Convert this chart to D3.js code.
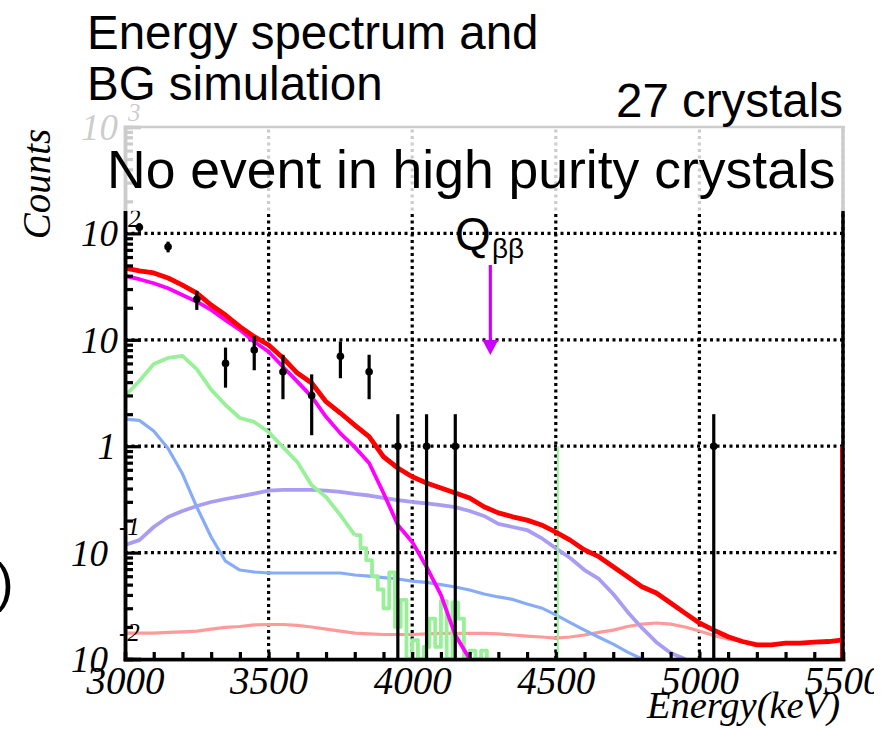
<!DOCTYPE html>
<meta charset="utf-8">
<style>
  html, body { margin: 0; background: #fff; }
  svg { display: block; }
  .root { font-family: "Liberation Serif", "DejaVu Serif", serif; font-style: italic; }
  .sans { font-family: "Liberation Sans", Arial, sans-serif; }
</style>
<body>
<script src="https://cdn.jsdelivr.net/npm/d3@7/dist/d3.min.js"></script>
<script>
// energy grid of the simulated spectra (keV)
var energy = [3000, 3050, 3100, 3150, 3200, 3250, 3300, 3350, 3400, 3450,
  3500, 3550, 3600, 3650, 3700, 3750, 3800, 3850, 3900, 3950,
  4000, 4050, 4100, 4150, 4200, 4250, 4300, 4350, 4400, 4450,
  4500, 4550, 4600, 4650, 4700, 4750, 4800, 4850, 4900, 4950,
  5000, 5050, 5100, 5150, 5200, 5250, 5300, 5350, 5400, 5450, 5500];

// BG simulation, counts per bin
var totalBG = [47.3, 44.4, 42.5, 38.1, 32.7, 27.5, 21.2, 17.1, 13.3, 10.7,
  8.93, 6.74, 4.87, 3.92, 2.62, 2.05, 1.58, 1.23, 0.796, 0.624,
  0.517, 0.451, 0.405, 0.363, 0.326, 0.27, 0.236, 0.217, 0.202, 0.182,
  0.156, 0.131, 0.106, 0.0915, 0.0736, 0.0593, 0.0478, 0.0417, 0.0336, 0.027,
  0.0218, 0.0187, 0.0162, 0.0146, 0.0136, 0.0136, 0.0141, 0.0141, 0.0144, 0.0146, 0.0151];
var magentaBG = [39.8, 37.1, 34.0, 30.5, 26.4, 22.8, 19.1, 15.3, 12.4, 9.6,
  7.73, 5.58, 4.04, 2.92, 1.89, 1.32, 0.98, 0.695, 0.363, 0.182,
  0.126, 0.0733, 0.04, 0.0168, 0];
var greenBG = [2.97, 4.1, 5.93, 6.75, 7.05, 5.3, 3.4, 2.44, 1.84, 1.69,
  1.36, 0.98, 0.71, 0.43, 0.333, 0.225, 0.146];
var greenTailE = [3800, 3820, 3840, 3860, 3880, 3900, 3920, 3940, 3960, 3980,
  4000, 4020, 4040, 4060, 4080, 4100, 4120, 4140, 4160, 4180,
  4200, 4220, 4240, 4260];
var greenTailV = [0.146, 0.11, 0.085, 0.06, 0.045, 0.03, 0.065, 0.02, 0.036, 0,
  0.015, 0, 0.013, 0.024, 0.013, 0.035, 0, 0.034, 0.024, 0,
  0.012, 0, 0.012, 0];
var blueBG = [1.80, 1.75, 1.39, 0.95, 0.55, 0.268, 0.14, 0.083, 0.0686, 0.0657,
  0.0643, 0.0643, 0.0643, 0.0643, 0.0643, 0.0643, 0.0616, 0.060, 0.0583, 0.0565,
  0.054, 0.0525, 0.050, 0.0475, 0.0445, 0.0408, 0.0383, 0.0363, 0.0329, 0.0302,
  0.026, 0.022, 0.0187, 0.016, 0.0138, 0.0116, 0];
var lavenderBG = [0.118, 0.131, 0.174, 0.216, 0.246, 0.274, 0.299, 0.319, 0.337, 0.359,
  0.383, 0.388, 0.388, 0.388, 0.383, 0.372, 0.356, 0.344, 0.326, 0.312,
  0.299, 0.29, 0.28, 0.268, 0.246, 0.221, 0.186, 0.174, 0.163, 0.137,
  0.11, 0.089, 0.0686, 0.0565, 0.0408, 0.0277, 0.0196, 0.0144, 0.0114, 0];
var pinkBG = [0.0175, 0.0175, 0.0175, 0.0178, 0.018, 0.0183, 0.0191, 0.0198, 0.0202, 0.0209,
  0.0211, 0.0211, 0.0207, 0.02, 0.0191, 0.0183, 0.0175, 0.0172, 0.017, 0.017,
  0.017, 0.0172, 0.0174, 0.0174, 0.0174, 0.0174, 0.0172, 0.0168, 0.0164, 0.0161,
  0.0157, 0.0161, 0.0168, 0.0178, 0.0187, 0.0202, 0.0213, 0.0218, 0.0213, 0.02,
  0.0183, 0.0166, 0.0154, 0.0148];

// measured events, 100 keV bins
var dataE = [3050, 3150, 3250, 3350, 3450, 3550, 3650, 3750, 3850, 3950, 4050, 4150, 5050];
var dataN = [114, 75, 24, 6, 8, 5, 3, 7, 5, 1, 1, 1, 1];

var xTicks = [3000, 3500, 4000, 4500, 5000, 5500];
var yExp = [-2, -1, 0, 1, 2, 3];
var qbb = 4272;

var W = 896, H = 729;
var svg = d3.select("body").append("svg").attr("width", W).attr("height", H);

var x = d3.scaleLinear().domain([3000, 5500]).range([125, 843]);
var y = d3.scaleLog().domain([1e-2, 1e3]).range([659, 127]);
function yv(v) { return y(Math.max(v, 1e-2)); }

svg.append("clipPath").attr("id", "plot")
  .append("rect").attr("x", 125).attr("y", 127).attr("width", 718).attr("height", 532);
svg.append("clipPath").attr("id", "page")
  .append("rect").attr("x", 0).attr("y", 0).attr("width", 874).attr("height", H);

// grid
var grid = svg.append("g").attr("stroke", "#000").attr("stroke-width", 3.2)
  .attr("stroke-dasharray", "3,3.5");
grid.selectAll(".gx").data(xTicks.slice(1)).enter().append("line")
  .attr("x1", d => x(d)).attr("x2", d => x(d)).attr("y1", 659).attr("y2", 127);
grid.selectAll(".gy").data([0.1, 1, 10, 100]).enter().append("line")
  .attr("x1", 125).attr("x2", 843).attr("y1", d => y(d)).attr("y2", d => y(d));

// histograms
var plot = svg.append("g").attr("clip-path", "url(#plot)").attr("fill", "none")
  .attr("stroke-linejoin", "round");
var line = d3.line().x((d, i) => x(energy[i])).y(d => yv(d));

plot.append("path").datum(pinkBG).attr("d", line).attr("stroke", "#ff9a9a").attr("stroke-width", 3.2);
plot.append("path").datum(lavenderBG).attr("d", line).attr("stroke", "#aa9cf2").attr("stroke-width", 3.8);
plot.append("path").datum(blueBG).attr("d", line).attr("stroke", "#86acf8").attr("stroke-width", 3.2);
plot.append("path").datum(greenBG).attr("d", line).attr("stroke", "#98f098").attr("stroke-width", 3.8);
plot.append("path").datum(greenTailV)
  .attr("d", d3.line().curve(d3.curveStepAfter).x((d, i) => x(greenTailE[i])).y(d => yv(d)))
  .attr("stroke", "#98f098").attr("stroke-width", 3.8);
plot.append("line").attr("x1", x(4500) + 2).attr("x2", x(4500) + 2).attr("y1", y(1)).attr("y2", y(1e-2))
  .attr("stroke", "#98f098").attr("stroke-width", 2);
plot.append("path").datum(magentaBG).attr("d", line).attr("stroke", "#ff00ff").attr("stroke-width", 3.8);
plot.append("path").datum(totalBG).attr("d", line).attr("stroke", "#ff0000").attr("stroke-width", 4.8);
plot.append("line").attr("x1", x(5500) - 2).attr("x2", x(5500) - 2).attr("y1", y(1)).attr("y2", y(1e-2))
  .attr("stroke", "#ff0000").attr("stroke-width", 2);

// data points with poisson errors
var pts = svg.append("g");
pts.selectAll("line").data(dataN).enter().append("line")
  .attr("x1", (d, i) => x(dataE[i])).attr("x2", (d, i) => x(dataE[i]))
  .attr("y1", d => yv(d - Math.sqrt(d))).attr("y2", d => yv(d + Math.sqrt(d)))
  .attr("stroke", "#000").attr("stroke-width", 3.2);
pts.selectAll("circle").data(dataN).enter().append("circle")
  .attr("cx", (d, i) => x(dataE[i])).attr("cy", d => y(d)).attr("r", 3.8).attr("fill", "#000");

// axes, ROOT style ticks pointing inward
var minorX = d3.range(3000, 5501, 100);
var bottom = svg.append("g").attr("transform", "translate(0,659)");
bottom.call(d3.axisBottom(x).tickValues(minorX).tickSize(-7).tickFormat(""));
bottom.append("g").call(d3.axisBottom(x).tickValues(xTicks).tickSize(-14).tickPadding(7).tickFormat(d3.format("d")))
  .attr("clip-path", "url(#page)");
bottom.selectAll("text").attr("class", "root").attr("font-size", 39).attr("fill", "#000");

var minorY = [];
[-2, -1, 0, 1, 2].forEach(function (k) {
  for (var m = 2; m <= 9; m++) minorY.push(m * Math.pow(10, k));
});
var left = svg.append("g").attr("transform", "translate(125,0)");
left.call(d3.axisLeft(y).tickValues(minorY).tickSize(-8).tickFormat(""));
left.append("g").call(d3.axisLeft(y).tickValues(yExp.map(k => Math.pow(10, k))).tickSize(-16).tickFormat(""));
svg.selectAll(".domain").attr("stroke-width", 3.5);
svg.selectAll(".tick line").attr("stroke-width", 3.2);

svg.append("line").attr("x1", 843).attr("x2", 843).attr("y1", 127).attr("y2", 660)
  .attr("stroke", "#000").attr("stroke-width", 3.5);
svg.append("line").attr("x1", 124).attr("x2", 845).attr("y1", 127).attr("y2", 127)
  .attr("stroke", "#000").attr("stroke-width", 2.5);

// y labels 10^k
var ylab = svg.append("g").attr("class", "root").attr("fill", "#000");
yExp.forEach(function (k) {
  var yy = y(Math.pow(10, k));
  if (k === 0) {
    ylab.append("text").attr("x", 116).attr("y", yy + 13).attr("text-anchor", "end")
      .attr("font-size", 37).text("1");
    return;
  }
  ylab.append("text").attr("x", k > 0 ? 118 : 108).attr("y", yy + 13).attr("text-anchor", "end")
    .attr("font-size", 37).text("10");
  if (k !== 1) {
    ylab.append("text").attr("x", k > 0 ? 128 : 119).attr("y", yy + (k > 0 ? -6 : -18))
      .attr("font-size", 25).text(k > 0 ? String(k) : "-" + (-k));
  }
});

// faded box on top of the plot
svg.append("rect").attr("x", 70).attr("y", 98).attr("width", 790).attr("height", 113)
  .attr("fill", "#fff").attr("fill-opacity", 0.8);

svg.append("text").attr("class", "root").attr("font-size", 39)
  .attr("transform", "translate(50,184) rotate(-90)").attr("text-anchor", "middle").text("Counts");
svg.append("text").attr("class", "root").attr("font-size", 38.5)
  .attr("x", 840).attr("y", 718).attr("text-anchor", "end").text("Energy(keV)");

// annotations
var ann = svg.append("g").attr("class", "sans").attr("fill", "#000");
ann.append("text").attr("x", 87).attr("y", 49).attr("font-size", 47.5).text("Energy spectrum and");
ann.append("text").attr("x", 87).attr("y", 100).attr("font-size", 47.5).text("BG simulation");
ann.append("text").attr("x", 843).attr("y", 117).attr("font-size", 47.5).attr("text-anchor", "end").text("27 crystals");
ann.append("text").attr("x", 107).attr("y", 188).attr("font-size", 53.5).text("No event in high purity crystals");
ann.append("text").attr("x", 455).attr("y", 250).attr("font-size", 46).text("Q");
ann.append("text").attr("x", 492).attr("y", 258).attr("font-size", 28).text("\u03b2\u03b2");
ann.append("text").attr("x", -4).attr("y", 601).attr("font-size", 53).text(")");

var qx = x(qbb);
svg.append("line").attr("x1", qx).attr("x2", qx).attr("y1", 265).attr("y2", 342)
  .attr("stroke", "#cc00ff").attr("stroke-width", 3.2);
svg.append("path").attr("fill", "#cc00ff")
  .attr("d", "M" + (qx - 8) + ",340 L" + (qx + 8) + ",340 L" + qx + ",355 Z");
</script>
</body>
